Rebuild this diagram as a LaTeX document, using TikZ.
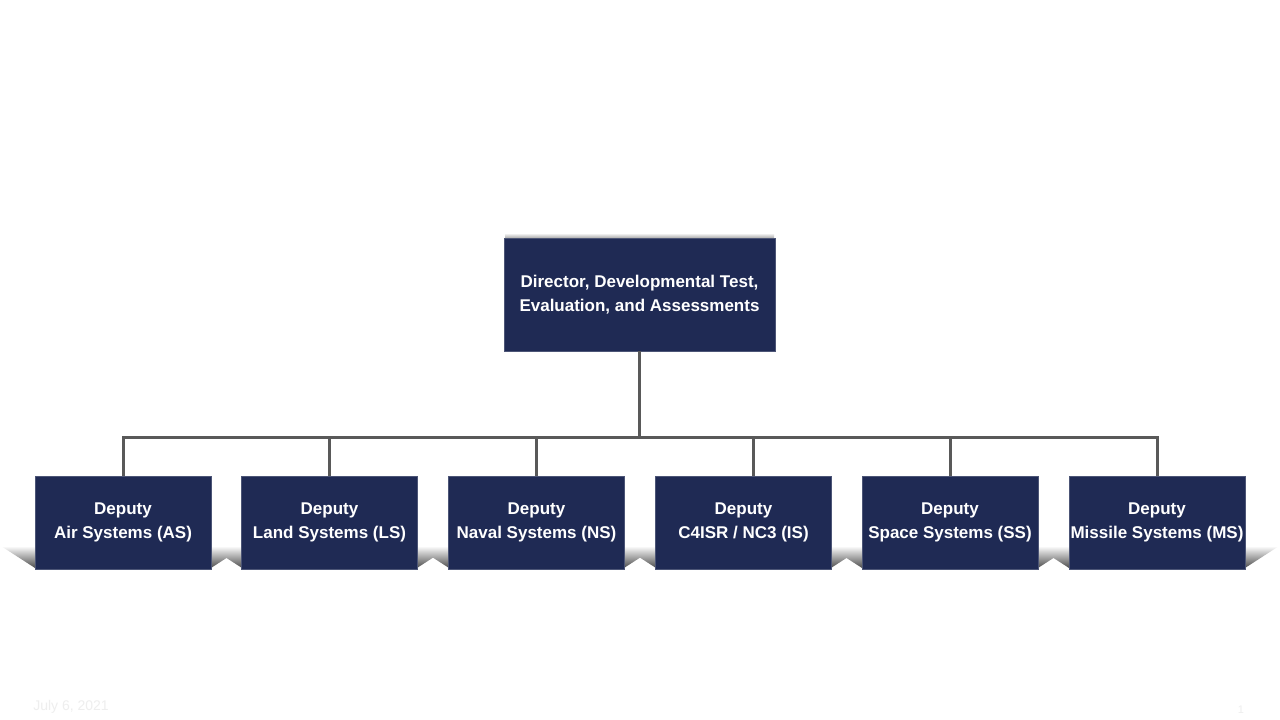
\documentclass[tikz,border=0pt]{standalone}
\usepackage{fontspec}
\setmainfont{Liberation Sans}
\usepackage{xcolor}
\usepackage{tikz}
\usetikzlibrary{shapes,arrows}
\definecolor{bnavy}{HTML}{1F2A54}
\definecolor{bline}{HTML}{595959}
\definecolor{bfoot}{HTML}{EEEEEE}
\tikzstyle{block} = [rectangle, fill=bnavy, draw=bnavy!80!white, thin, align=center, text=white, font=\fontsize{17}{24}\selectfont\bfseries, inner sep=1pt]
\tikzstyle{deputy} = [block, minimum width=176pt, minimum height=93pt]
\tikzstyle{link} = [draw, line width=3pt, bline]
\tikzstyle{floorshadow} = [top color=white, bottom color=black!70, middle color=black!35]
\tikzstyle{foot} = [text=bfoot, font=\fontsize{14}{16}\selectfont]

\begin{document}
\begin{tikzpicture}[x=1pt, y=-1pt]
    \useasboundingbox[fill=white] (0,0) rectangle (1280,720);
    % shadows on the floor
    \foreach \l/\r in {35/211, 242/417, 449/624, 656/831, 862/1038, 1069/1245} {
        \shade[floorshadow] (\l-34,546) -- (\r+34,546) -- (\r,568) -- (\l,568) -- cycle;
    }
    \shade[top color=white, bottom color=black!40] (505,233) rectangle (774,239);
    % director
    \node[block, minimum width=271pt, minimum height=113pt] at (639.5,294.5) (director) {Director, Developmental Test,\\Evaluation, and Assessments};
    % deputies
    \node[deputy] at (123,522.5) (dAS) {Deputy\\Air Systems (AS)};
    \node[deputy] at (329.5,522.5) (dLS) {Deputy\\Land Systems (LS)};
    \node[deputy] at (536.5,522.5) (dNS) {Deputy\\Naval Systems (NS)};
    \node[deputy] at (743.5,522.5) (dIS) {Deputy\\C4ISR / NC3 (IS)};
    \node[deputy] at (950,522.5) (dSS) {Deputy\\Space Systems (SS)};
    \node[deputy] at (1157,522.5) (dMS) {Deputy\\Missile Systems (MS)};
    % connectors
    \coordinate (bus) at (director.south |- 0,437);
    \path[link] (director.south) to (bus);
    \path[link] (dAS.north) -- (dAS.north |- bus) -- (dMS.north |- bus) -- (dMS.north);
    \path[link] (dLS.north |- bus) to (dLS.north);
    \path[link] (dNS.north |- bus) to (dNS.north);
    \path[link] ([xshift=9.5pt]dIS.north |- bus) to ([xshift=9.5pt]dIS.north);
    \path[link] (dSS.north |- bus) to (dSS.north);
    % footer
    \node[foot] at (71,707) (date) {July 6, 2021};
    \node[foot, font=\fontsize{11}{13}\selectfont] at (1241,710) (page) {1};
\end{tikzpicture}
\end{document}
